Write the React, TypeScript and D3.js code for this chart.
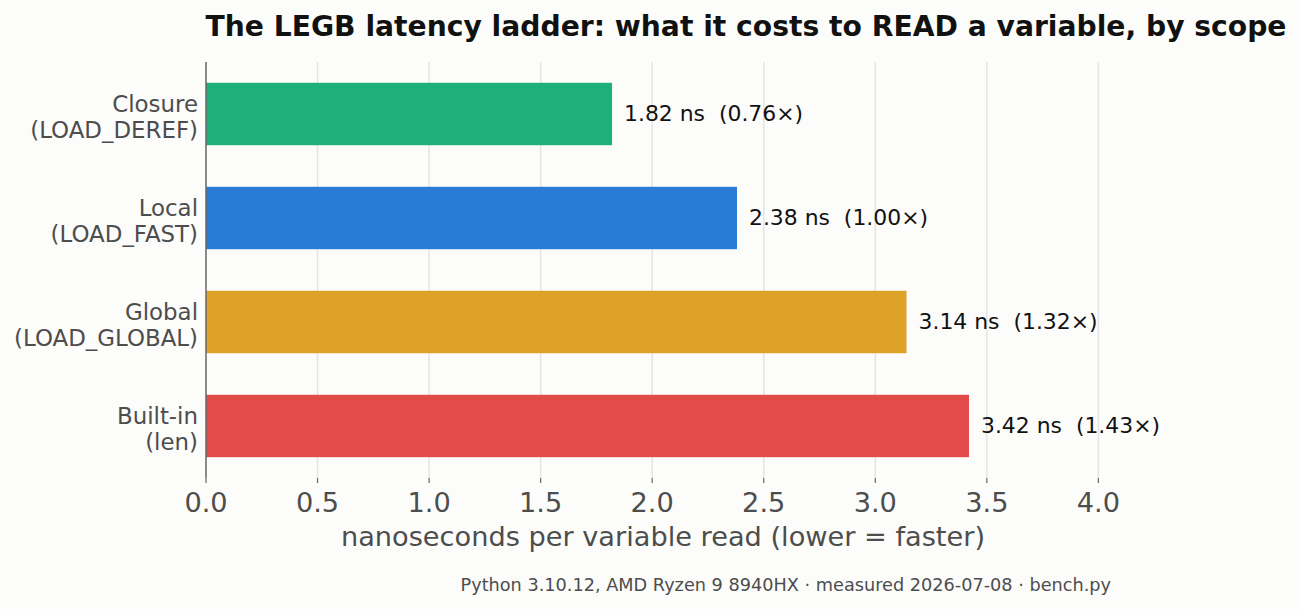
import * as d3 from "d3";

// Data
const scopes = ["Closure", "Local", "Global", "Built-in"];
const opcodes = ["(LOAD_DEREF)", "(LOAD_FAST)", "(LOAD_GLOBAL)", "(len)"];
const nanos = [1.82, 2.38, 3.14, 3.42];
const ratios = [0.76, 1.0, 1.32, 1.43];
const barColors = ["#1db07a", "#2a7bd6", "#dfa228", "#e34a4a"];
const xTicks = [0, 0.5, 1, 1.5, 2, 2.5, 3, 3.5, 4];

const W = 1300;
const H = 609;
const font = "DejaVu Sans, sans-serif";

/* Horizontal bar chart of read cost by scope */
function App() {
    const margin = { top: 62, bottom: 131, left: 206, right: 157 };

    const x = d3.scaleLinear()
        .domain([0, 4.2])
        .range([margin.left, W - margin.right]);

    const y = d3.scaleBand()
        .domain(scopes)
        .range([margin.top, H - margin.bottom])
        .paddingInner(0.4)
        .paddingOuter(0.2);

    const plotBottom = H - margin.bottom;

    return (
        <svg width={W} height={H}
            style={{ position: "absolute", left: 0, top: 0, background: "#fcfcfa" }}
            fontFamily={font}>
            <rect x={0} y={0} width={W} height={H} fill="#fcfcfa" />

            {/* title */}
            <text x={746} y={36} textAnchor="middle" fontSize={28.2} fontWeight="bold" fill="#111">
                The LEGB latency ladder: what it costs to READ a variable, by scope
            </text>

            {/* vertical grid */}
            {xTicks.filter(t => t > 0).map(t => (
                <line key={"g" + t} x1={x(t)} x2={x(t)} y1={margin.top} y2={plotBottom}
                    stroke="#e4e4e4" strokeWidth={1.5} />
            ))}

            {/* bars */}
            {scopes.map((s, i) => (
                <rect key={s} x={x(0)} y={y(s)} width={x(nanos[i]) - x(0)}
                    height={y.bandwidth()} fill={barColors[i]} />
            ))}

            {/* value labels */}
            {scopes.map((s, i) => (
                <text key={"v" + s} x={x(nanos[i]) + 12} y={y(s) + y.bandwidth() / 2 + 7}
                    fontSize={21.9} fill="#111">
                    {`${nanos[i].toFixed(2)} ns\u00a0\u00a0(${ratios[i].toFixed(2)}×)`}
                </text>
            ))}

            {/* category labels */}
            {scopes.map((s, i) => {
                const cy = y(s) + y.bandwidth() / 2;
                return (
                    <text key={"c" + s} textAnchor="end" fontSize={22.9} fill="#4d4d4d">
                        <tspan x={margin.left - 8} y={cy - 2}>{s}</tspan>
                        <tspan x={margin.left - 8} y={cy + 24.3}>{opcodes[i]}</tspan>
                    </text>
                );
            })}

            {/* left spine */}
            <line x1={x(0)} x2={x(0)} y1={margin.top} y2={plotBottom} stroke="#666" strokeWidth={1.5} />

            {/* x ticks */}
            {xTicks.map(t => (
                <g key={"t" + t} transform={`translate(${x(t)},${plotBottom})`}>
                    <line y1={0} y2={5} stroke="#666" strokeWidth={1.2} />
                    <text y={34} textAnchor="middle" fontSize={27.2} fill="#4d4d4d">
                        {d3.format(".1f")(t)}
                    </text>
                </g>
            ))}

            {/* axis label */}
            <text x={663} y={546} textAnchor="middle" fontSize={27.2} fill="#4d4d4d">
                nanoseconds per variable read (lower = faster)
            </text>

            {/* footer */}
            <text x={1111} y={591} textAnchor="end" fontSize={17.7} fill="#4d4d4d">
                Python 3.10.12, AMD Ryzen 9 8940HX · measured 2026-07-08 · bench.py
            </text>
        </svg>
    );
}

export default App;
